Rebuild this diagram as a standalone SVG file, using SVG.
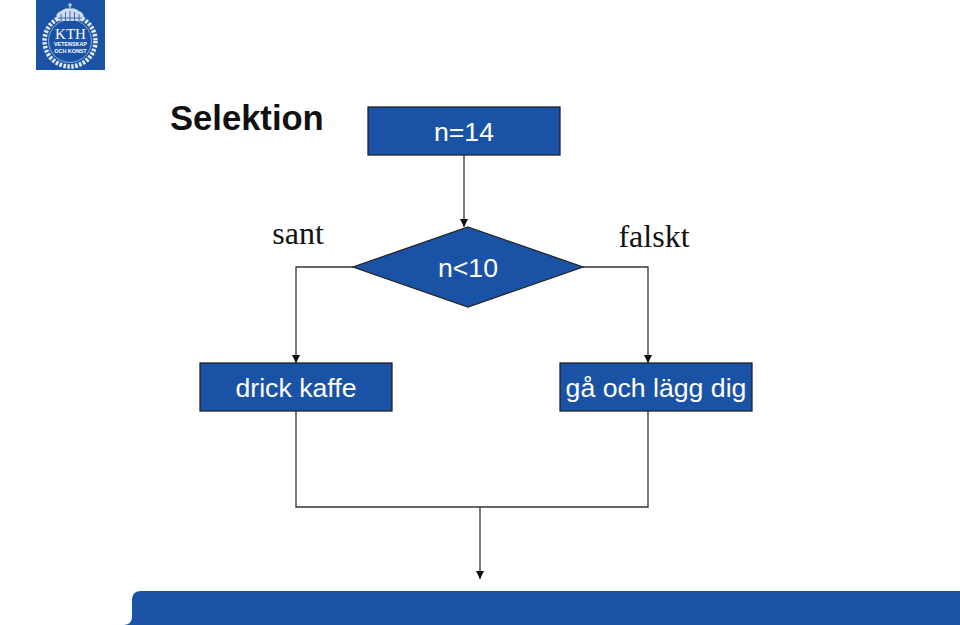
<svg xmlns="http://www.w3.org/2000/svg" width="960" height="625" viewBox="0 0 960 625">
<style>
.box{fill:#1a53a6;stroke:#222;stroke-width:1.3}
.lbl{font-family:"Liberation Sans",Arial,sans-serif;font-size:26.67px;fill:#fff;text-anchor:middle}
.ser{font-family:"Liberation Serif","Times New Roman",serif;font-size:32px;fill:#111;text-anchor:middle}
.ln{fill:none;stroke:#333;stroke-width:1.3}
.logo{font-family:"Liberation Sans",Arial,sans-serif;fill:#fff;text-anchor:middle;font-weight:bold}
</style>
<defs>
<marker id="ah" markerUnits="userSpaceOnUse" markerWidth="9" markerHeight="9" refX="8" refY="4" orient="auto"><path d="M0 0L8 4L0 8Z" fill="#111"/></marker>
</defs>
<rect width="960" height="625" fill="#fff"/>
<g id="logo">
<rect x="36" y="0" width="69" height="70" fill="#1a53a6"/>
<circle cx="70" cy="41" r="25.5" fill="none" stroke="#e4ecf6" stroke-width="4.5" stroke-dasharray="2.5 1.5"/>
<circle cx="70" cy="41" r="21.5" fill="none" stroke="#a9c1e2" stroke-width=".8"/>
<path d="M58 21Q54 13 61 11Q66 7 70 9Q74 7 79 11Q86 13 82 21Z" fill="#cfdcef"/>
<path d="M61 21V14M65.500 21V12M70 21V11M74.500 21V12M79 21V14" stroke="#1a53a6" stroke-width=".8"/>
<path d="M58 18H82" stroke="#1a53a6" stroke-width=".8"/>
<path d="M70 9V3M68 5H72" stroke="#dfe8f4" stroke-width="1.2"/>
<text class="logo" x="70.500" y="39" style="font-family:'Liberation Serif',serif;font-weight:normal;font-size:15px">KTH</text>
<text class="logo" x="70.500" y="46" font-size="5.400">VETENSKAP</text>
<text class="logo" x="70.500" y="53" font-size="5.400">OCH KONST</text>
</g>
<text id="title" x="170" y="130" style="font-family:'Liberation Sans',Arial,sans-serif;font-weight:bold;font-size:34.600px;fill:#111">Selektion</text>
<g id="connectors">
<path class="ln" d="M464 155V227" marker-end="url(#ah)"/>
<path class="ln" d="M353 267H296V363" marker-end="url(#ah)"/>
<path class="ln" d="M583 267H648V363" marker-end="url(#ah)"/>
<path class="ln" d="M296 411V507H648V411"/>
<path class="ln" d="M480 507V579" marker-end="url(#ah)"/>
</g>
<g id="n-start"><rect class="box" x="368" y="107" width="192" height="48"/><text class="lbl" x="464" y="141">n=14</text></g>
<g id="n-cond"><path class="box" d="M468 227L583 267L468 307L353 267Z"/><text class="lbl" x="468" y="277">n&lt;10</text></g>
<g id="n-true"><rect class="box" x="200" y="363" width="192" height="48"/><text class="lbl" x="296" y="397">drick kaffe</text></g>
<g id="n-false"><rect class="box" x="560" y="363" width="192" height="48"/><text class="lbl" x="656" y="397">gå och lägg dig</text></g>
<text id="l-sant" class="ser" x="298" y="244">sant</text>
<text id="l-falskt" class="ser" x="654" y="247">falskt</text>
<path id="footer" d="M960 591H141Q132 591 132 600V617Q132 624 124 625H960Z" fill="#1a53a6"/>
</svg>
